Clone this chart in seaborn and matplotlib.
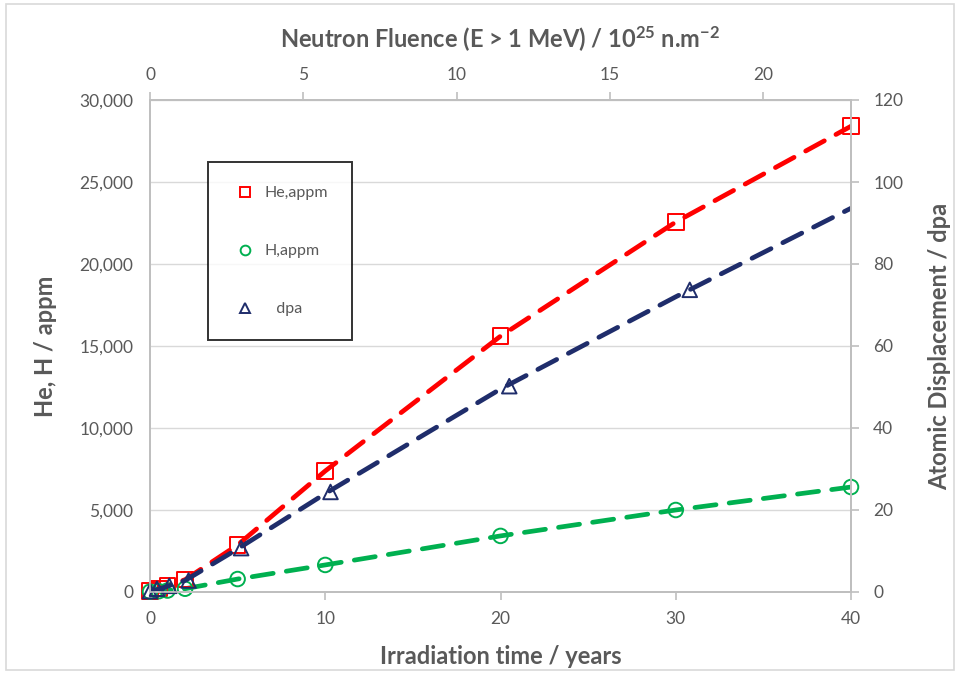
"""He, H and dpa build-up versus irradiation time."""
import numpy as np
import pandas as pd
import matplotlib
matplotlib.use("Agg")
import matplotlib.pyplot as plt
import seaborn as sns
from matplotlib.ticker import FuncFormatter
from matplotlib.lines import Line2D
from matplotlib.patches import Rectangle

# helium, appm
he_years = [0, 0.5, 1, 2, 5, 10, 20, 30, 40]
he_appm = [60, 200, 400, 750, 2870, 7380, 15600, 22560, 28400]

# hydrogen, appm
h_years = [0, 0.5, 1, 2, 5, 10, 20, 30, 40]
h_appm = [20, 50, 90, 200, 790, 1650, 3420, 5000, 6400]

# dpa markers (shifted slightly in time in the source)
dpa_years = [0, 0.4, 1.1, 2.2, 5.2, 10.3, 20.5, 30.8]
dpa_vals = [0.2, 0.8, 1.5, 2.8, 10.7, 24.4, 50.2, 73.7]

# dpa trend line
dpa_line_years = [0, 1, 2, 5, 10, 20, 30, 40]
dpa_line_vals = [0, 1.4, 2.8, 10.5, 24.0, 49.5, 72.0, 93.6]

fluence_max = 22.87  # top axis value at 40 years

sns.set_style("white")
plt.rcParams["font.family"] = ["Lato", "DejaVu Sans"]
plt.rcParams["mathtext.default"] = "regular"

grey = "#595959"
red = "#ff0000"
green = "#00b050"
navy = "#1f2d6b"

fig = plt.figure(figsize=(9.6, 6.73), dpi=100)
fig.patches.append(Rectangle((0.006, 0.004), 0.988, 0.99, transform=fig.transFigure,
                             fill=False, edgecolor="#d9d9d9", linewidth=1.2))
ax = fig.add_axes([150 / 960, 1 - 592 / 673, 701 / 960, 492 / 673])
ax2 = ax.twinx()
ax3 = ax.twiny()

he = pd.DataFrame({"years": he_years, "appm": he_appm})
hh = pd.DataFrame({"years": h_years, "appm": h_appm})
dpa = pd.DataFrame({"years": dpa_years, "dpa": dpa_vals})
dpa_line = pd.DataFrame({"years": dpa_line_years, "dpa": dpa_line_vals})

line_kw = dict(linewidth=3.4, dash_capstyle="round", legend=False)
sns.lineplot(data=he, x="years", y="appm", ax=ax, color=red, linestyle=(0, (4.5, 2.8)), **line_kw)
sns.lineplot(data=hh, x="years", y="appm", ax=ax, color=green, linestyle=(0, (4.5, 2.8)), **line_kw)
sns.lineplot(data=dpa_line, x="years", y="dpa", ax=ax2, color=navy, linestyle=(0, (4.5, 2.8)), **line_kw)

sns.scatterplot(data=he, x="years", y="appm", ax=ax, marker="s", s=125,
                facecolor="none", edgecolor=red, linewidth=1.4, zorder=5, clip_on=False)
sns.scatterplot(data=hh, x="years", y="appm", ax=ax, marker="o", s=110,
                facecolor="none", edgecolor=green, linewidth=1.4, zorder=5, clip_on=False)
sns.scatterplot(data=dpa, x="years", y="dpa", ax=ax2, marker="^", s=110,
                facecolor="none", edgecolor=navy, linewidth=1.4, zorder=5, clip_on=False)

ax.set_xlim(0, 40)
ax.set_ylim(0, 30000)
ax2.set_ylim(0, 120)
ax3.set_xlim(0, fluence_max)

ax.set_xticks([0, 10, 20, 30, 40])
ax.set_yticks(np.arange(0, 30001, 5000))
ax2.set_yticks(np.arange(0, 121, 20))
ax3.set_xticks([0, 5, 10, 15, 20])
ax.yaxis.set_major_formatter(FuncFormatter(lambda v, p: f"{int(v):,}"))

ax.grid(axis="y", color="#d9d9d9", linewidth=1)
ax.grid(axis="x", visible=False)
ax2.grid(False)
ax3.grid(False)

for a in (ax, ax2, ax3):
    for s in a.spines.values():
        s.set_color("#bfbfbf")
        s.set_linewidth(1.2)

ax.tick_params(axis="x", colors="#bfbfbf", labelcolor=grey, labelsize=12.5,
               length=6, width=1.2, direction="out", bottom=True, pad=8)
ax.tick_params(axis="y", labelcolor=grey, labelsize=12.5, length=0, pad=12, left=False)
ax2.tick_params(axis="y", colors="#bfbfbf", labelcolor=grey, labelsize=12.5,
                length=6, width=1.2, direction="out", right=True, pad=10)
ax3.tick_params(axis="x", colors="#bfbfbf", labelcolor=grey, labelsize=12.5,
                length=6, width=1.2, direction="out", top=True, pad=6)

ax.set_xlabel("Irradiation time / years", fontsize=17, fontweight="bold", color=grey, labelpad=13)
ax.set_ylabel("He, H / appm", fontsize=17, fontweight="bold", color=grey, labelpad=16)
ax2.set_ylabel("Atomic Displacement / dpa", fontsize=17, fontweight="bold", color=grey, labelpad=18)
ax3.set_xlabel(r"Neutron Fluence (E > 1 MeV) / 10$^{25}$ n.m$^{-2}$", fontsize=17,
               fontweight="bold", color=grey, labelpad=14)

handles = [
    Line2D([], [], linestyle="none", marker="s", markersize=7, markerfacecolor="none",
           markeredgecolor=red, markeredgewidth=1.4),
    Line2D([], [], linestyle="none", marker="o", markersize=7, markerfacecolor="none",
           markeredgecolor=green, markeredgewidth=1.4),
    Line2D([], [], linestyle="none", marker="^", markersize=7, markerfacecolor="none",
           markeredgecolor=navy, markeredgewidth=1.4),
]
leg = ax3.legend(handles, ["He,appm", "H,appm", "   dpa"], loc="upper left",
                 bbox_to_anchor=(0.083, 0.874), fontsize=11.5, labelspacing=2.75,
                 borderpad=1.5, handletextpad=0.4, handlelength=1.6,
                 frameon=True, fancybox=False, borderaxespad=0)
leg.get_frame().set_edgecolor("black")
leg.get_frame().set_linewidth(1.4)
for t in leg.get_texts():
    t.set_color(grey)

fig.savefig("out.png", dpi=100)
